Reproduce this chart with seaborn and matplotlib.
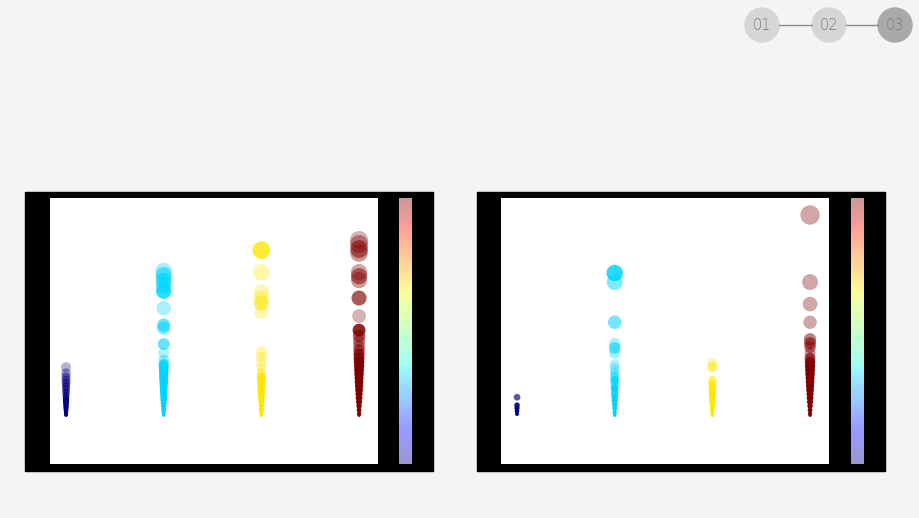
import numpy as np
import pandas as pd
import matplotlib
matplotlib.use('Agg')
import matplotlib.pyplot as plt
import matplotlib.colors as mcolors
from matplotlib import cm
from matplotlib.patches import Rectangle, Circle
import seaborn as sns

# x positions of the four columns (also the colour index into jet)
categories = [0, 1, 2, 3]

# left panel: values and point alphas, one pair per column
left_0_y = [18.4, 16.2, 14.7, 13.5, 12.4, 11.3, 10.2, 9.0, 7.9, 6.8, 6.0, 5.3, 4.5, 3.8, 3.0, 2.3, 1.5, 0.8, 0.4]
left_0_a = [0.3, 0.4, 0.5, 0.55, 0.6, 0.6, 0.65, 0.7, 0.75, 0.8, 0.85, 0.9, 0.9, 0.95, 1, 1, 1, 1, 1]
left_1_y = [54.5, 53.0, 50.8, 48.9, 47.0, 40.6, 34.2, 33.1, 27.1, 23.7, 21.1, 19.5, 18.4, 17.3, 16.2,
            15.0, 13.9, 12.8, 11.7, 10.5, 9.4, 8.3, 7.1, 6.0, 4.9, 3.8, 2.6, 1.5, 0.4]
left_1_a = [0.35, 0.6, 0.7, 0.5, 0.8, 0.35, 0.6, 0.5, 0.6, 0.3, 0.4, 0.85, 0.9, 0.9, 0.9,
            0.95, 0.9, 1, 0.95, 1, 1, 1, 1, 1, 1, 1, 1, 1, 1]
left_2_y = [62.4, 54.1, 46.6, 44.4, 42.5, 39.1, 24.1, 22.2, 20.3, 18.4, 16.2, 14.7, 13.2, 11.7, 10.2,
            8.6, 7.1, 5.6, 4.1, 2.6, 1.5, 0.4]
left_2_a = [0.8, 0.35, 0.3, 0.35, 0.6, 0.3, 0.35, 0.3, 0.3, 0.35, 0.5, 0.9, 0.9, 0.95, 1,
            1, 1, 1, 1, 1, 1, 1]
left_3_y = [66.2, 64.7, 62.8, 61.3, 54.1, 52.6, 51.1, 44.4, 37.6, 32.3, 30.1, 28.2, 26.3, 24.8, 23.3,
            21.8, 20.3, 18.8, 17.3, 15.8, 14.3, 12.8, 11.3, 9.8, 8.3, 6.8, 5.3, 3.8, 2.3, 1.1, 0.4]
left_3_a = [0.3, 0.4, 0.55, 0.4, 0.35, 0.5, 0.4, 0.65, 0.3, 0.85, 0.6, 0.5, 0.5, 0.6, 0.8,
            0.9, 1, 1, 1, 1, 1, 1, 1, 1, 1, 1, 1, 1, 1, 1, 1]

# right panel
right_0_y = [7.1, 4.1, 3.0, 1.9, 0.8]
right_0_a = [0.65, 0.9, 1, 1, 1]
right_1_y = [53.8, 50.4, 35.3, 27.1, 25.6, 23.7, 19.5, 18.0, 16.5, 15.0, 13.5, 12.0, 10.5, 9.0, 7.5,
             6.0, 4.5, 3.0, 1.5, 0.4]
right_1_a = [0.85, 0.5, 0.55, 0.35, 0.6, 0.35, 0.3, 0.35, 0.4, 0.6, 0.8, 0.7, 0.9, 0.9, 1,
             1, 1, 1, 1, 1]
right_2_y = [19.9, 18.4, 13.5, 12.0, 10.5, 9.0, 7.5, 6.0, 4.5, 3.0, 1.5, 0.4]
right_2_a = [0.35, 0.55, 0.6, 0.7, 0.9, 1, 1, 1, 1, 1, 1, 1]
right_3_y = [75.6, 50.4, 42.1, 35.3, 28.9, 27.4, 25.9, 23.7, 21.8, 20.3, 18.8, 17.3, 15.8, 14.3, 12.8,
             11.3, 9.8, 8.3, 6.8, 5.3, 3.8, 2.3, 1.1, 0.4]
right_3_a = [0.35, 0.35, 0.35, 0.35, 0.5, 0.6, 0.5, 0.4, 0.7, 0.9, 1, 1, 1, 1, 1,
             1, 1, 1, 1, 1, 1, 1, 1, 1]

step_labels = ['01', '02', '03']

cmap = plt.get_cmap('jet')
palette = {c: cmap(c / 3) for c in categories}


def panel_frame(ys, alphas):
    rows = []
    for cat, yv, av in zip(categories, ys, alphas):
        for v, a in zip(yv, av):
            rows.append({'cat': cat, 'value': v, 'alpha': a})
    return pd.DataFrame(rows)


def draw_panel(ax, df):
    sns.scatterplot(data=df, x='cat', y='value', hue='cat', palette=palette,
                    size='value', sizes=(6, 206), size_norm=(0, 80),
                    linewidth=0, legend=False, ax=ax)
    pts = ax.collections[-1]
    fc = pts.get_facecolors()
    fc[:, 3] = df['alpha'].values
    pts.set_facecolors(fc)
    ax.set_xlim(-0.164, 3.194)
    ax.set_ylim(-18, 82)
    ax.set_facecolor('white')
    ax.set_xticks([])
    ax.set_yticks([])
    ax.set_xlabel('')
    ax.set_ylabel('')
    for s in ax.spines.values():
        s.set_visible(False)


def add_colorbar(fig, rect):
    cax = fig.add_axes(rect)
    cax.set_facecolor('white')
    sm = cm.ScalarMappable(cmap=cmap, norm=mcolors.Normalize(0, 1))
    cb = fig.colorbar(sm, cax=cax, alpha=0.4)
    cb.set_ticks([])
    cb.outline.set_visible(False)
    return cb


W, H = 920, 518
fig = plt.figure(figsize=(9.2, 5.18), dpi=100, facecolor='#f4f4f4')

# background layer in pixel coordinates for frames and the step indicator
bg = fig.add_axes([0, 0, 1, 1], zorder=-1)
bg.set_xlim(0, W)
bg.set_ylim(H, 0)
bg.axis('off')
bg.add_patch(Rectangle((25, 192), 408, 279, color='black'))
bg.add_patch(Rectangle((477, 192), 408, 279, color='black'))

bg.plot([779, 812], [25, 25], color='#8c8c8c', lw=1)
bg.plot([846, 878], [25, 25], color='#8c8c8c', lw=1)
for i, (cx, lab) in enumerate(zip([762, 829, 895], step_labels)):
    face = '#a9a9a9' if i == 2 else '#d6d6d6'
    bg.add_patch(Circle((cx, 25), 17, color=face))
    bg.text(cx, 25, lab, ha='center', va='center', fontsize=10.5,
            color='#7a7a7a', family='DejaVu Sans', fontweight='light')


def fx(px):
    return px / W


def fy(top, bottom):
    return 1 - bottom / H, (bottom - top) / H


y0, h = fy(198, 464)

ax_l = fig.add_axes([fx(50), y0, fx(328), h])
draw_panel(ax_l, panel_frame([left_0_y, left_1_y, left_2_y, left_3_y],
                             [left_0_a, left_1_a, left_2_a, left_3_a]))
add_colorbar(fig, [fx(399), y0, fx(13), h])

ax_r = fig.add_axes([fx(501), y0, fx(328), h])
draw_panel(ax_r, panel_frame([right_0_y, right_1_y, right_2_y, right_3_y],
                             [right_0_a, right_1_a, right_2_a, right_3_a]))
add_colorbar(fig, [fx(851), y0, fx(13), h])

fig.savefig('out.png', dpi=100, facecolor=fig.get_facecolor())
